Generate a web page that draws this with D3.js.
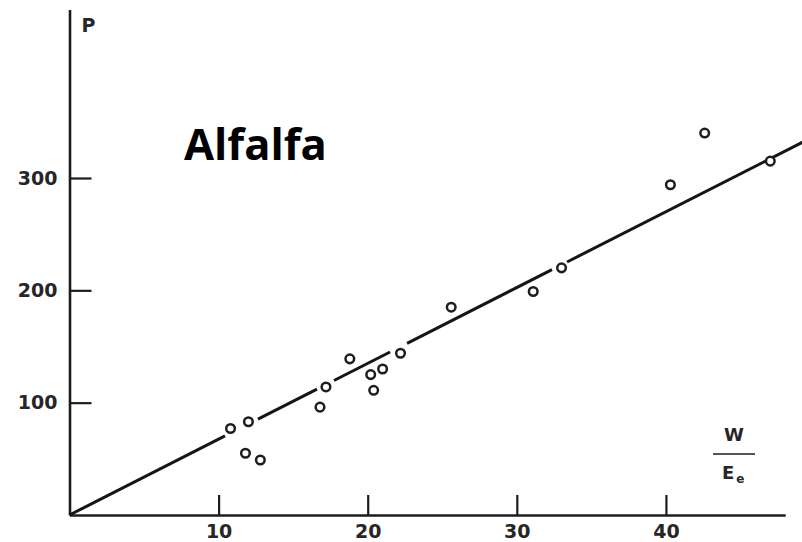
<!DOCTYPE html>
<html>
<head>
<meta charset="utf-8">
<script src="https://cdn.jsdelivr.net/npm/d3@7/dist/d3.min.js"></script>
<style>
  html, body { margin: 0; padding: 0; background: #fff; }
  svg { display: block; }
</style>
</head>
<body>
<svg id="chart" width="802" height="542"></svg>
<script>
// Water use ratio W/Ee against production P
const ratioValues = [10.8, 12.0, 11.8, 12.8, 16.8, 17.2, 18.8, 20.2, 20.4, 21.0, 22.2, 25.6, 31.1, 33.0, 40.3, 42.6, 47.0];
const productionValues = [77, 83, 55, 49, 96, 114, 139, 125, 111, 130, 144, 185, 199, 220, 294, 340, 315];

const xTicks = [10, 20, 30, 40];
const yTicks = [100, 200, 300];

// Fitted line through the origin, P = slope * W/Ee, drawn with the
// interruptions where it runs into the plotted circles.
const fitSlope = 6.75;
const fitExtent = [0, 49.2];
const fitBreaks = [[10.43, 12.64], [16.6, 17.74], [21.5, 22.64], [32.36, 33.37]];

const cropName = "Alfalfa";

const svg = d3.select("#chart");

const x = d3.scaleLinear().domain([0, 48]).range([69.5, 785.2]);
const y = d3.scaleLinear().domain([0, 450]).range([515, 9.5]);

const ink = "#1c1c1c";
const tickFont = "DejaVu Sans, sans-serif";

// Axes: ticks point into the plot area
const xAxis = svg.append("g")
  .attr("transform", `translate(0,${y(0)})`)
  .call(d3.axisBottom(x).tickValues(xTicks).tickSizeInner(-20).tickSizeOuter(0).tickPadding(10));

const yAxis = svg.append("g")
  .attr("transform", `translate(${x(0)},0)`)
  .call(d3.axisLeft(y).tickValues(yTicks).tickSizeInner(-22).tickSizeOuter(0).tickPadding(12));

[xAxis, yAxis].forEach(g => {
  g.select(".domain").attr("stroke", ink).attr("stroke-width", 2.6);
  g.selectAll(".tick line").attr("stroke", ink).attr("stroke-width", 2.2);
  g.selectAll(".tick text")
    .attr("fill", "#262626")
    .style("font-family", tickFont)
    .style("font-size", "19px")
    .style("font-weight", "bold");
});

// Fit line pieces
const pieces = [];
let start = fitExtent[0];
fitBreaks.forEach(([a, b]) => { pieces.push([start, a]); start = b; });
pieces.push([start, fitExtent[1]]);

const fitLine = d3.line()
  .x(d => x(d))
  .y(d => y(fitSlope * d));

svg.append("g")
  .selectAll("path")
  .data(pieces)
  .join("path")
  .attr("d", d => fitLine(d))
  .attr("fill", "none")
  .attr("stroke", "#151515")
  .attr("stroke-width", 3)
  .attr("stroke-linecap", "butt");

// Observations as open circles
const points = ratioValues.map((v, i) => ({ r: v, p: productionValues[i] }));
svg.append("g")
  .selectAll("circle")
  .data(points)
  .join("circle")
  .attr("cx", d => x(d.r))
  .attr("cy", d => y(d.p))
  .attr("r", 4.3)
  .attr("fill", "#fff")
  .attr("stroke", "#1e1e1e")
  .attr("stroke-width", 2.5);

// Axis names
svg.append("text")
  .attr("x", x(0) + 12)
  .attr("y", 32)
  .attr("fill", "#262626")
  .style("font-family", tickFont)
  .style("font-size", "19px")
  .style("font-weight", "bold")
  .text("P");

const frac = svg.append("g")
  .attr("fill", "#262626")
  .style("font-family", tickFont)
  .style("font-weight", "bold");

frac.append("text")
  .attr("x", 734)
  .attr("y", 441)
  .attr("text-anchor", "middle")
  .style("font-size", "18px")
  .text("W");

frac.append("line")
  .attr("x1", 713).attr("x2", 755)
  .attr("y1", 454).attr("y2", 454)
  .attr("stroke", "#555")
  .attr("stroke-width", 2);

const eText = frac.append("text")
  .attr("x", 722)
  .attr("y", 479)
  .style("font-size", "18px")
  .text("E");
eText.append("tspan")
  .attr("dx", 2)
  .attr("dy", 4)
  .style("font-size", "12px")
  .text("e");

// Crop label
svg.append("text")
  .attr("x", 184)
  .attr("y", 160)
  .attr("fill", "#000")
  .style("font-family", "Open Sans, sans-serif")
  .style("font-size", "43.5px")
  .style("font-weight", "bold")
  .text(cropName);
</script>
</body>
</html>
